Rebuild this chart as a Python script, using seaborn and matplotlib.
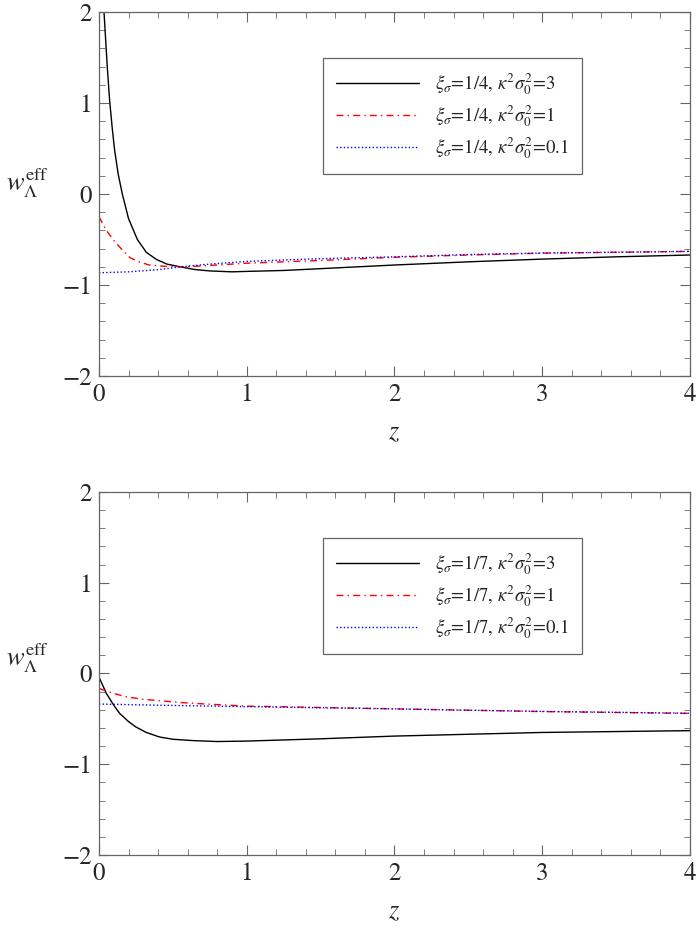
import matplotlib
matplotlib.use('Agg')
import matplotlib.pyplot as plt
import seaborn as sns
from matplotlib.ticker import MultipleLocator

# top panel: xi_sigma = 1/4
z_top_a = [0.0, 0.02, 0.034, 0.045, 0.056, 0.072, 0.09, 0.106, 0.13, 0.158, 0.2, 0.26, 0.32, 0.39, 0.46,
           0.55, 0.65, 0.75, 0.9, 1.0, 1.25, 1.5, 1.75, 2.0, 2.5, 3.0, 3.5, 4.0]
w_top_a = [3.2, 2.5, 2.0, 1.7, 1.4, 1.03, 0.72, 0.48, 0.22, 0.0, -0.27, -0.5, -0.64, -0.72, -0.77,
           -0.80, -0.83, -0.845, -0.855, -0.85, -0.84, -0.82, -0.80, -0.78, -0.745, -0.715, -0.69, -0.67]
z_top_b = [0.0, 0.05, 0.1, 0.15, 0.21, 0.28, 0.34, 0.45, 0.57, 0.7, 0.85, 1.0, 1.5, 2.0, 2.5, 3.0, 3.5, 4.0]
w_top_b = [-0.25, -0.40, -0.51, -0.60, -0.70, -0.75, -0.78, -0.795, -0.80, -0.79, -0.775, -0.76,
           -0.73, -0.695, -0.67, -0.65, -0.64, -0.63]
z_top_c = [0.0, 0.2, 0.41, 0.55, 0.75, 1.0, 1.5, 2.0, 2.5, 3.0, 3.5, 4.0]
w_top_c = [-0.865, -0.855, -0.83, -0.80, -0.77, -0.74, -0.71, -0.69, -0.665, -0.648, -0.64, -0.63]

# bottom panel: xi_sigma = 1/7
z_bot_a = [0.0, 0.05, 0.1, 0.14, 0.2, 0.25, 0.32, 0.41, 0.5, 0.64, 0.8, 1.0, 1.5, 2.0, 2.5, 3.0, 3.5, 4.0]
w_bot_a = [-0.04, -0.22, -0.35, -0.44, -0.53, -0.59, -0.65, -0.70, -0.725, -0.74, -0.75, -0.745,
           -0.72, -0.69, -0.67, -0.65, -0.64, -0.63]
z_bot_b = [0.0, 0.1, 0.18, 0.3, 0.41, 0.55, 0.725, 1.0, 1.5, 2.0, 2.5, 3.0, 3.5, 4.0]
w_bot_b = [-0.165, -0.22, -0.256, -0.285, -0.30, -0.32, -0.337, -0.36, -0.375, -0.39, -0.405,
           -0.42, -0.43, -0.44]
z_bot_c = [0.0, 0.41, 1.0, 1.5, 2.0, 2.5, 3.0, 3.5, 4.0]
w_bot_c = [-0.337, -0.35, -0.366, -0.378, -0.39, -0.405, -0.418, -0.428, -0.438]

labels_top = [r'$\xi_\sigma$=1/4, $\kappa^2\sigma_0^2$=3',
              r'$\xi_\sigma$=1/4, $\kappa^2\sigma_0^2$=1',
              r'$\xi_\sigma$=1/4, $\kappa^2\sigma_0^2$=0.1']
labels_bot = [r'$\xi_\sigma$=1/7, $\kappa^2\sigma_0^2$=3',
              r'$\xi_\sigma$=1/7, $\kappa^2\sigma_0^2$=1',
              r'$\xi_\sigma$=1/7, $\kappa^2\sigma_0^2$=0.1']

sns.set_style('ticks')
plt.rcParams['font.family'] = ['STIXGeneral', 'Liberation Serif', 'DejaVu Serif']
plt.rcParams['mathtext.fontset'] = 'stix'

colors = ['black', 'red', 'blue']
styles = ['-', (0, (5, 3, 1, 3)), (0, (1, 1.6))]
frame = '#666666'

fig = plt.figure(figsize=(6.98, 9.34), dpi=100)
ax_top = fig.add_axes([0.1418, 0.5974, 0.8467, 0.3897])
ax_bot = fig.add_axes([0.1418, 0.0846, 0.8467, 0.3887])

panels = [
    (ax_top, [(z_top_a, w_top_a), (z_top_b, w_top_b), (z_top_c, w_top_c)], labels_top, 0.483),
    (ax_bot, [(z_bot_a, w_bot_a), (z_bot_b, w_bot_b), (z_bot_c, w_bot_c)], labels_bot, 0.496),
]

for ax, series, labels, ylab_y in panels:
    for (zz, ww), c, ls, lab in zip(series, colors, styles, labels):
        sns.lineplot(x=zz, y=ww, ax=ax, color=c, linestyle=ls, linewidth=1.0, label=lab)
    ax.set_xlim(0, 4)
    ax.set_ylim(-2, 2)
    ax.xaxis.set_major_locator(MultipleLocator(1))
    ax.xaxis.set_minor_locator(MultipleLocator(0.2))
    ax.yaxis.set_major_locator(MultipleLocator(1))
    ax.yaxis.set_minor_locator(MultipleLocator(0.2))
    ax.tick_params(which='both', direction='in', top=True, right=True, color=frame, labelsize=18)
    ax.tick_params(which='major', length=7, width=0.8, pad=5)
    ax.tick_params(which='minor', length=4, width=0.6)
    for sp in ax.spines.values():
        sp.set_color(frame)
        sp.set_linewidth(0.9)
    ax.set_xlabel(r'$z$', fontsize=19, labelpad=10)
    ax.set_ylabel(r'$w_\Lambda^{\rm eff}$', fontsize=19, rotation=0)
    ax.yaxis.set_label_coords(-0.122, ylab_y)
    leg = ax.legend(loc='upper left', bbox_to_anchor=(0.379, 0.874), borderaxespad=0,
                    fontsize=13.5, handlelength=4.4, labelspacing=0.35, fancybox=False,
                    framealpha=1, edgecolor=frame, borderpad=0.7, handletextpad=0.9)
    leg.get_frame().set_linewidth(0.9)

fig.savefig('out.png', dpi=100)
